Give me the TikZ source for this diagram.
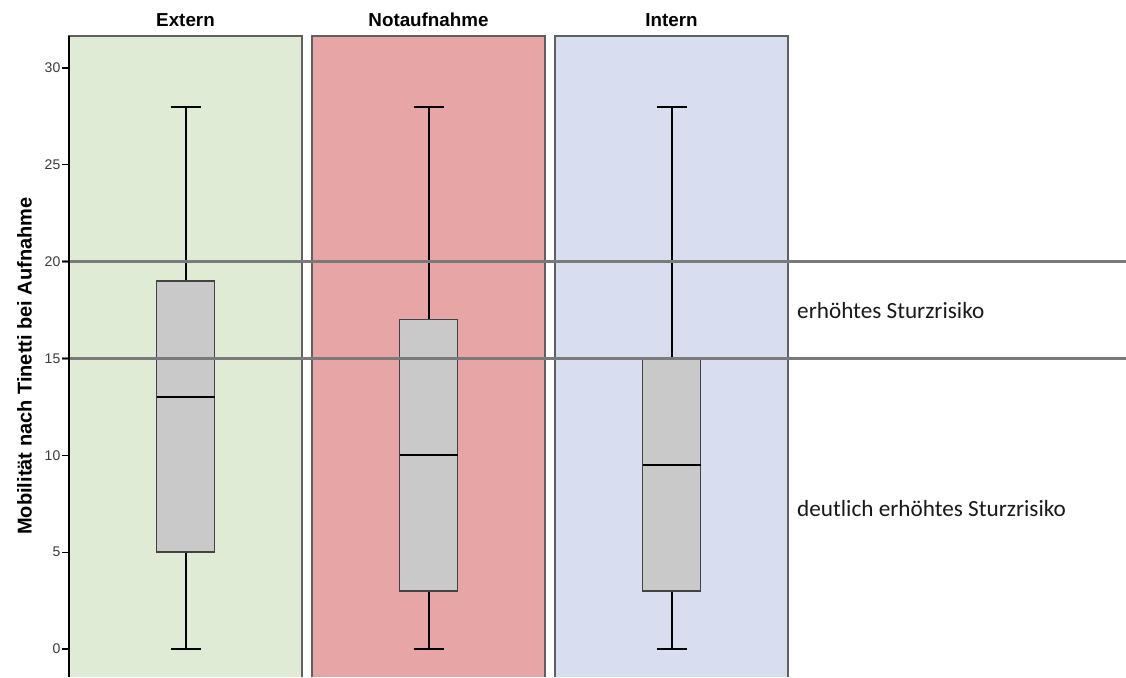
\documentclass[tikz,border=0pt]{standalone}
\usepackage{fontspec}
\setmainfont{Liberation Sans}
\newfontfamily\notefont{Carlito}

\definecolor{pgreen}{HTML}{DFEBD5}
\definecolor{pred}{HTML}{E8A5A6}
\definecolor{pblue}{HTML}{D8DEF0}
\definecolor{boxgray}{HTML}{C9C9C9}
\definecolor{refgray}{HTML}{7A7A7A}
\definecolor{framegray}{HTML}{606060}
\definecolor{ticktext}{HTML}{3A3A3A}

% value -> vertical position (y axis points down, 1 unit = 1pt)
\newcommand\vy[1]{649-19.367*(#1)}

% boxplot: centre x, min, q1, median, q3, max
\newcommand\drawbxp[6]{%
  \draw[whisk] (#1,{\vy{#2}}) -- (#1,{\vy{#3}});
  \draw[whisk] (#1,{\vy{#5}}) -- (#1,{\vy{#6}});
  \draw[capline] ({#1-15},{\vy{#2}}) -- ({#1+15},{\vy{#2}});
  \draw[capline] ({#1-15},{\vy{#6}}) -- ({#1+15},{\vy{#6}});
  \filldraw[iqrbox] ({#1-29},{\vy{#3}}) rectangle ({#1+29},{\vy{#5}});
  \draw[medline] ({#1-29},{\vy{#4}}) -- ({#1+29},{\vy{#4}});
}

\begin{document}
\begin{tikzpicture}[x=1pt,y=-1pt,
  panelframe/.style={draw=framegray,line width=1.4pt},
  whisk/.style={draw=black,line width=2pt},
  capline/.style={draw=black,line width=2.4pt},
  iqrbox/.style={fill=boxgray,draw=framegray!70!black,line width=1.4pt},
  medline/.style={draw=black,line width=2.2pt},
  refline/.style={draw=refgray,line width=2.4pt},
  title/.style={font=\fontsize{18.8}{20}\selectfont\bfseries,anchor=base},
  ticklab/.style={font=\fontsize{14}{15}\selectfont,text=ticktext,anchor=east,inner sep=0pt},
  note/.style={font=\notefont\fontsize{23.2}{26}\selectfont,text=black!90,anchor=base west,inner sep=0pt}]
\useasboundingbox (0,0) rectangle (1126,677);

% coloured group panels
\fill[pgreen] (69,36) rectangle (302,677);
\fill[pred]   (312,36) rectangle (545,677);
\fill[pblue]  (555,36) rectangle (788,677);
\draw[panelframe] (69,677) |- (302,36) -- (302,677);
\draw[panelframe] (312,677) |- (545,36) -- (545,677);
\draw[panelframe] (555,677) |- (788,36) -- (788,677);

% boxplots
\drawbxp{185.5}{0}{5}{13}{19}{28}
\drawbxp{428.5}{0}{3}{10}{17}{28}
\drawbxp{671.5}{0}{3}{9.5}{15}{28}

% risk thresholds
\draw[refline] (62,{\vy{20}}) -- (1126,{\vy{20}});
\draw[refline] (62,{\vy{15}}) -- (1126,{\vy{15}});

% y axis with ticks
\draw[black,line width=1.3pt] (69,36) -- (69,677);
\foreach \v in {0,5,...,30}{
  \draw[black,line width=1.1pt] (62,{\vy{\v}}) -- (69,{\vy{\v}});
  \node[ticklab] (tick\v) at (60.5,{\vy{\v}}) {\v};
}

% labels
\node[title] (tExtern) at (185.5,27) {Extern};
\node[title] (tNot) at (428.5,27) {Notaufnahme};
\node[title] (tIntern) at (671.5,27) {Intern};
\node[font=\fontsize{20}{22}\selectfont\bfseries,rotate=90,inner sep=0pt] (ylab) at (24.5,366) {Mobilität nach Tinetti bei Aufnahme};

\node[note] (nHigh) at (797,318) {erhöhtes Sturzrisiko};
\node[note] (nVeryHigh) at (797,516) {deutlich erhöhtes Sturzrisiko};
\end{tikzpicture}
\end{document}
